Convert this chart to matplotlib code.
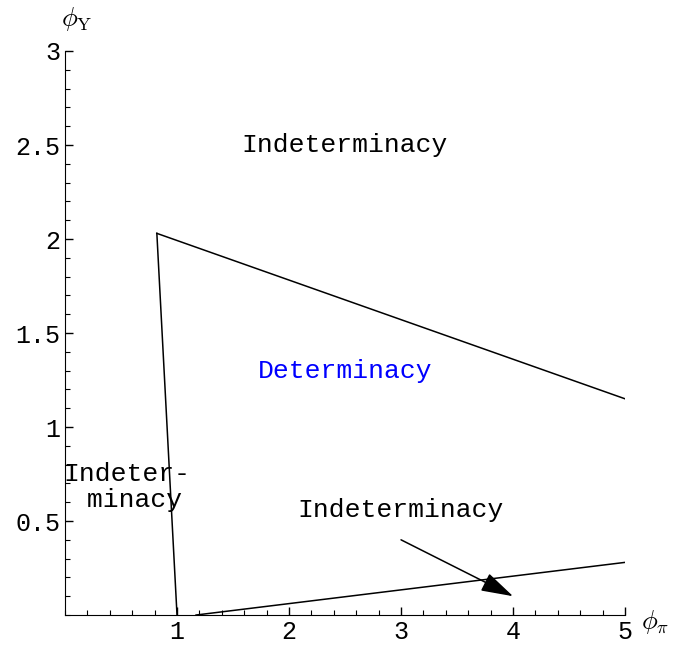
import matplotlib.pyplot as plt
from matplotlib.ticker import MultipleLocator, FixedLocator

plt.rcParams['mathtext.fontset'] = 'cm'

# boundary lines of the determinacy region
upper_x = [0.82, 5.0]
upper_y = [2.03, 1.15]
left_x = [0.82, 1.0]
left_y = [2.03, 0.0]
lower_x = [1.17, 5.0]
lower_y = [0.0, 0.28]

# arrow from label to lower region
arrow_start = (3.0, 0.40)
arrow_end = (4.0, 0.10)

labels = ["Indeterminacy", "Determinacy", "Indeter-\n minacy", "Indeterminacy"]
label_x = [2.5, 2.5, 0.55, 3.0]
label_y = [2.50, 1.30, 0.68, 0.56]
label_colors = ["black", "blue", "black", "black"]

mono = "Liberation Mono"

fig = plt.figure(figsize=(6.75, 6.48), dpi=100)
ax = fig.add_axes([0.0963, 0.0509, 0.8297, 0.8704])

for xs, ys in [(upper_x, upper_y), (left_x, left_y), (lower_x, lower_y)]:
    ax.plot(xs, ys, color="black", linewidth=1.1)

ax.annotate("", xy=arrow_end, xytext=arrow_start,
            arrowprops=dict(arrowstyle="-|>,head_length=1.0,head_width=0.3",
                            mutation_scale=20, color="black", linewidth=1.1,
                            shrinkA=0, shrinkB=0))

for t, x, y, c in zip(labels, label_x, label_y, label_colors):
    ax.text(x, y, t, color=c, ha="center", va="center", fontsize=19,
            family=mono, linespacing=1.1)

ax.set_xlim(0, 5)
ax.set_ylim(0, 3)
ax.spines["top"].set_visible(False)
ax.spines["right"].set_visible(False)
ax.xaxis.set_major_locator(FixedLocator([1, 2, 3, 4, 5]))
ax.xaxis.set_minor_locator(MultipleLocator(0.2))
ax.yaxis.set_major_locator(FixedLocator([0.5, 1, 1.5, 2, 2.5, 3]))
ax.yaxis.set_minor_locator(MultipleLocator(0.1))
ax.set_xticklabels(["1", "2", "3", "4", "5"])
ax.set_yticklabels(["0.5", "1", "1.5", "2", "2.5", "3"])
ax.tick_params(which="major", direction="in", length=6, width=1, labelsize=18)
ax.tick_params(which="minor", direction="in", length=3.5, width=0.8)
for lab in ax.get_xticklabels() + ax.get_yticklabels():
    lab.set_family(mono)

fig.text(0.114, 0.970, r"$\phi_{\mathrm{Y}}$", fontsize=19, ha="center", va="center")
fig.text(0.970, 0.040, r"$\phi_{\pi}$", fontsize=19, ha="center", va="center")

fig.savefig("out.png")
